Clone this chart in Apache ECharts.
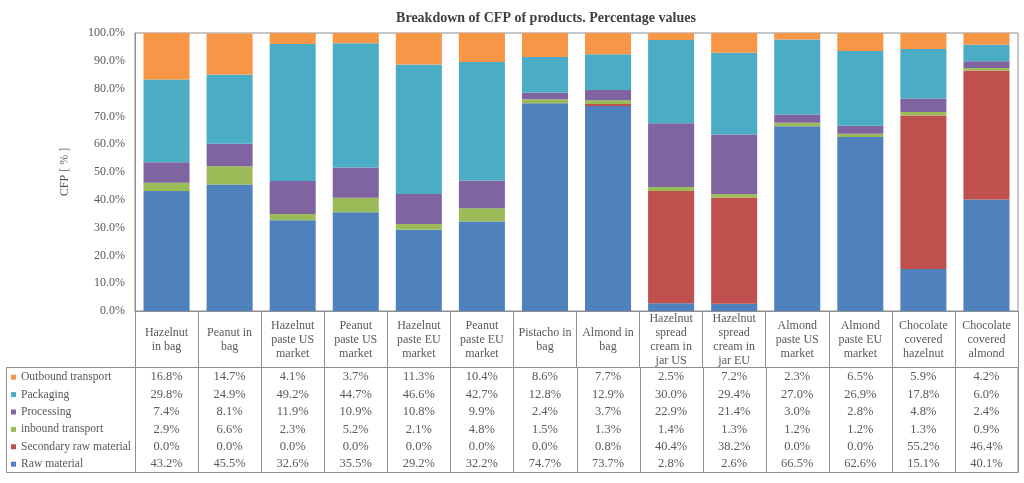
<!DOCTYPE html>
<html>
<head>
<meta charset="utf-8">
<script src="https://cdn.jsdelivr.net/npm/echarts@6/dist/echarts.min.js"></script>
<style>
html,body{margin:0;padding:0;background:#fff;}
#c{width:1024px;height:483px;}
</style>
</head>
<body>
<div id="c"></div>
<script>
const categories = [
  "Hazelnut\nin bag", "Peanut in\nbag", "Hazelnut\npaste US\nmarket", "Peanut\npaste US\nmarket",
  "Hazelnut\npaste EU\nmarket", "Peanut\npaste EU\nmarket", "Pistacho in\nbag", "Almond in\nbag",
  "Hazelnut\nspread\ncream in\njar US", "Hazelnut\nspread\ncream in\njar EU", "Almond\npaste US\nmarket",
  "Almond\npaste EU\nmarket", "Chocolate\ncovered\nhazelnut", "Chocolate\ncovered\nalmond"
];
const outbound   = [16.8, 14.7, 4.1, 3.7, 11.3, 10.4, 8.6, 7.7, 2.5, 7.2, 2.3, 6.5, 5.9, 4.2];
const packaging  = [29.8, 24.9, 49.2, 44.7, 46.6, 42.7, 12.8, 12.9, 30.0, 29.4, 27.0, 26.9, 17.8, 6.0];
const processing = [7.4, 8.1, 11.9, 10.9, 10.8, 9.9, 2.4, 3.7, 22.9, 21.4, 3.0, 2.8, 4.8, 2.4];
const inbound    = [2.9, 6.6, 2.3, 5.2, 2.1, 4.8, 1.5, 1.3, 1.4, 1.3, 1.2, 1.2, 1.3, 0.9];
const secondary  = [0.0, 0.0, 0.0, 0.0, 0.0, 0.0, 0.0, 0.8, 40.4, 38.2, 0.0, 0.0, 55.2, 46.4];
const raw        = [43.2, 45.5, 32.6, 35.5, 29.2, 32.2, 74.7, 73.7, 2.8, 2.6, 66.5, 62.6, 15.1, 40.1];
const yTicks = [0, 10, 20, 30, 40, 50, 60, 70, 80, 90, 100];

const seriesDefs = [
  {name: "Raw material", data: raw, color: "#4F81BD"},
  {name: "Secondary raw material", data: secondary, color: "#C0504D"},
  {name: "inbound transport", data: inbound, color: "#9BBB59"},
  {name: "Processing", data: processing, color: "#8064A2"},
  {name: "Packaging", data: packaging, color: "#4BACC6"},
  {name: "Outbound transport", data: outbound, color: "#F79646"}
];
const tableOrder = ["Outbound transport", "Packaging", "Processing", "inbound transport", "Secondary raw material", "Raw material"];

const FONT = "'Liberation Serif', 'DejaVu Serif', serif";
const TXT = "#595959";
const LINE = "#8e8e8e";

const chart = echarts.init(document.getElementById('c'));
const G = {left: 135, right: 6, top: 33, bottom: 172};
const tableTop = 367.5, rowH = 17.4, tableLeft = 6;

chart.setOption({
  animation: false,
  title: {
    text: "Breakdown of CFP of products. Percentage values",
    left: 541, top: 6, textAlign: 'center',
    textStyle: {fontFamily: FONT, fontSize: 14, fontWeight: 'bold', color: '#404040'}
  },
  legend: {
    orient: 'vertical', left: 11, top: tableTop + 1, padding: 0,
    itemWidth: 5, itemHeight: 5, itemGap: 0,
    icon: 'rect', selectedMode: false,
    data: tableOrder,
    textStyle: {fontFamily: FONT, fontSize: 11.6, color: TXT, lineHeight: rowH}
  },
  grid: {left: G.left, right: G.right, top: G.top, bottom: G.bottom, show: true, borderColor: LINE, borderWidth: 1},
  xAxis: {
    type: 'category', data: categories,
    axisLine: {lineStyle: {color: LINE}},
    axisTick: {show: true, interval: 0, length: 56, lineStyle: {color: LINE}},
    axisLabel: {interval: 0, margin: 29, verticalAlign: 'middle', fontFamily: FONT, fontSize: 12, lineHeight: 14, color: TXT}
  },
  yAxis: {
    type: 'value', min: yTicks[0], max: yTicks[yTicks.length - 1], interval: 10,
    name: 'CFP [ % ]', nameLocation: 'middle', nameGap: 64, nameRotate: 90,
    nameTextStyle: {fontFamily: FONT, fontSize: 12, color: TXT},
    axisLine: {show: true, lineStyle: {color: LINE}},
    axisTick: {show: false},
    splitLine: {show: false},
    axisLabel: {fontFamily: FONT, fontSize: 12, color: TXT, margin: 10, formatter: v => v.toFixed(1) + '%'}
  },
  series: seriesDefs.map(s => ({
    name: s.name, type: 'bar', stack: 'total', data: s.data,
    barCategoryGap: '27%', itemStyle: {color: s.color}
  }))
});

// data table built from the same arrays
function buildTable() {
  const gRect = chart.getModel().getComponent('grid').coordinateSystem.getRect();
  const right = gRect.x + gRect.width;
  const bottom = 472.5;
  const els = [];
  els.push({type: 'rect', shape: {x: tableLeft + 0.5, y: tableTop, width: right - tableLeft - 0.5, height: bottom - tableTop},
    style: {fill: 'none', stroke: LINE, lineWidth: 1}, silent: true});
  const n = categories.length;
  const colW = gRect.width / n;
  for (let k = 0; k <= n; k++) {
    const x = Math.round(gRect.x + k * colW) + 0.5;
    els.push({type: 'line', shape: {x1: x, y1: tableTop, x2: x, y2: bottom}, style: {stroke: LINE, lineWidth: 1}, silent: true});
  }
  const byName = {};
  seriesDefs.forEach(s => byName[s.name] = s.data);
  tableOrder.forEach((name, r) => {
    const arr = byName[name];
    const y = tableTop + 1 + rowH * (r + 0.5);
    arr.forEach((v, i) => {
      const x = chart.convertToPixel({xAxisIndex: 0}, i);
      els.push({type: 'text', silent: true, style: {text: v.toFixed(1) + '%', x: x, y: y, align: 'center', verticalAlign: 'middle',
        font: '12.5px ' + FONT, fill: TXT}});
    });
  });
  chart.setOption({graphic: {elements: els}});
}
buildTable();
</script>
</body>
</html>
